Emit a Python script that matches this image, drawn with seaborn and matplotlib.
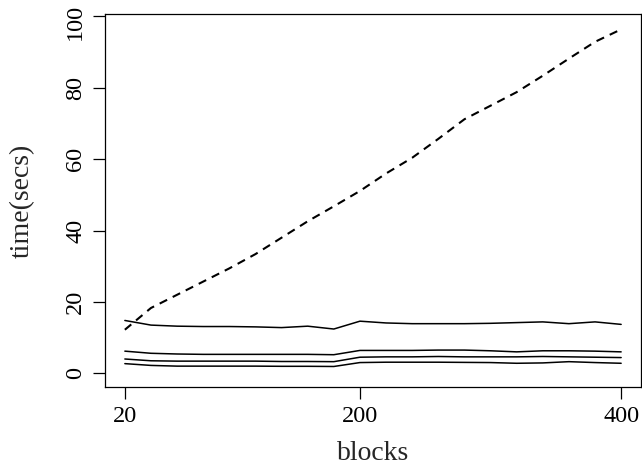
import numpy as np
import pandas as pd
import matplotlib
matplotlib.use("Agg")
import matplotlib.pyplot as plt
import matplotlib.transforms as mtransforms
import seaborn as sns

blocks = [20, 40, 60, 80, 100, 120, 140, 160, 180, 200,
          220, 240, 260, 280, 300, 320, 340, 360, 380, 400]
dashed = [12.2, 18.3, 22.0, 25.7, 29.4, 33.4, 38.0, 42.6, 46.8, 51.1,
          56.0, 60.4, 65.7, 71.2, 75.0, 78.8, 83.4, 88.2, 92.9, 96.4]
solid1 = [14.8, 13.5, 13.2, 13.1, 13.1, 13.0, 12.8, 13.2, 12.4, 14.6,
          14.1, 13.9, 13.9, 13.9, 14.0, 14.2, 14.4, 13.9, 14.4, 13.7]
solid2 = [6.2, 5.6, 5.4, 5.3, 5.3, 5.3, 5.3, 5.3, 5.2, 6.4,
          6.4, 6.4, 6.5, 6.5, 6.3, 6.0, 6.3, 6.3, 6.2, 6.0]
solid3 = [4.0, 3.5, 3.4, 3.4, 3.4, 3.4, 3.3, 3.3, 3.25, 4.5,
          4.6, 4.6, 4.7, 4.6, 4.6, 4.6, 4.7, 4.6, 4.5, 4.4]
solid4 = [2.7, 2.2, 2.0, 2.0, 2.0, 2.0, 1.95, 1.95, 1.9, 3.0,
          3.1, 3.1, 3.1, 3.05, 3.0, 2.8, 2.9, 3.25, 3.0, 2.8]

xticks = [20, 200, 400]
yticks = [0, 20, 40, 60, 80, 100]

sns.set_style("ticks")
plt.rcParams['font.family'] = ['Liberation Serif', 'DejaVu Serif']

fig = plt.figure(figsize=(6.42, 4.68), dpi=100)
ax = fig.add_axes([105/642, 1-387/468, (641-105)/642, (387-14)/468])

for ys in [solid1, solid2, solid3, solid4]:
    sns.lineplot(x=blocks, y=ys, ax=ax, color="black", linewidth=1.1)
sns.lineplot(x=blocks, y=dashed, ax=ax, color="black", linewidth=1.5,
             dashes=False)
ax.lines[-1].set_linestyle((0, (4, 3)))

ax.set_xlim(4.8, 415.2)
ax.set_ylim(-3.85, 100.7)
ax.set_xticks(xticks)
ax.set_xticklabels([str(t) for t in xticks])
ax.set_yticks(yticks)
ax.set_yticklabels([str(t) for t in yticks], rotation=90, va='center')
ax.tick_params(axis='both', direction='out', length=8.6, width=0.9,
               labelsize=17.5, colors='black', pad=5)
for s in ax.spines.values():
    s.set_visible(True)
    s.set_linewidth(0.9)
    s.set_color('black')
ax.set_xlabel("blocks", fontsize=20)
ax.set_ylabel("time(secs)", fontsize=20)
ax.yaxis.set_label_coords(-(105 - 22) / 536, 0.5)
ax.xaxis.set_label_coords(0.5, -(453 - 387) / 373)
ax.xaxis.label.set_va('center')
ax.yaxis.label.set_va('center')
ax.grid(False)

# keep the top y tick label inside the canvas
top_lbl = ax.yaxis.get_major_ticks()[-1].label1
top_lbl.set_transform(top_lbl.get_transform() +
                      mtransforms.ScaledTranslation(0, -4 / 72, fig.dpi_scale_trans))

fig.savefig("out.png", dpi=100)
